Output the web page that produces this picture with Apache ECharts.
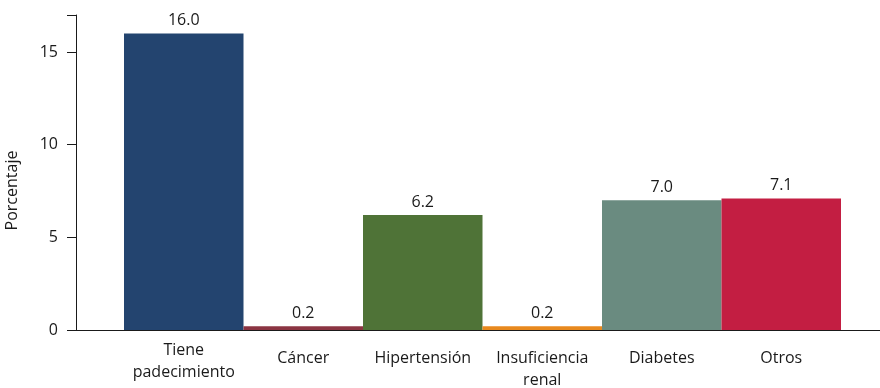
<!DOCTYPE html>
<html>
<head>
<meta charset="utf-8">
<script src="https://cdn.jsdelivr.net/npm/echarts@6/dist/echarts.min.js"></script>
<style>
  html, body { margin: 0; padding: 0; background: #fff; }
  #chart { width: 880px; height: 388px; }
</style>
</head>
<body>
<div id="chart"></div>
<script>
// Padecimientos: porcentaje de población
const categories = ['Tiene\npadecimiento', 'Cáncer', 'Hipertensión', 'Insuficiencia\nrenal', 'Diabetes', 'Otros'];
const values = [16.0, 0.2, 6.2, 0.2, 7.0, 7.1];
const barColors = ['#23446f', '#8b3442', '#4f7337', '#e8891e', '#6a8b80', '#c31e42'];
const yTicks = [0, 5, 10, 15];

const FONT = '"Open Sans", "Noto Sans", sans-serif';
const chart = echarts.init(document.getElementById('chart'));

const gridTop = 15, gridBottom = 58;

chart.setOption({
  animation: false,
  grid: [
    // frame grid: carries the visible axes
    { left: 76, right: 0, top: gridTop, bottom: gridBottom, containLabel: false, outerBoundsMode: 'none' },
    // bar grid: categories span a narrower band
    { left: 124, right: 39, top: gridTop, bottom: gridBottom, containLabel: false, outerBoundsMode: 'none' }
  ],
  xAxis: [
    {
      gridIndex: 0, type: 'value', min: 0, max: 1,
      axisLine: { show: true, onZero: false, lineStyle: { color: '#1a1a1a', width: 1 } },
      axisTick: { show: false }, axisLabel: { show: false }, splitLine: { show: false }
    },
    {
      gridIndex: 1, type: 'category',
      data: categories.map((c, i) => i === 0 ? { value: c, textStyle: { padding: [0, 0, 0, 0] } } : c),
      axisLine: { show: false }, axisTick: { show: false },
      axisLabel: {
        interval: 0, margin: 9, color: '#1a1a1a', fontFamily: FONT, fontSize: 16,
        lineHeight: 22, padding: [8, 0, 0, 0]
      }
    }
  ],
  yAxis: [
    {
      gridIndex: 0, type: 'value', min: 0, max: 17, interval: 5,
      name: 'Porcentaje', nameLocation: 'middle', nameGap: 56,
      nameTextStyle: { color: '#1a1a1a', fontFamily: FONT, fontSize: 16, padding: [0, 36, 0, 0] },
      axisLine: { show: true, lineStyle: { color: '#1a1a1a', width: 1 } },
      axisTick: { show: true, length: 9, lineStyle: { color: '#1a1a1a' } },
      axisLabel: {
        margin: 18, color: '#1a1a1a', fontFamily: FONT, fontSize: 16,
        formatter: v => yTicks.includes(v) ? String(v) : ''
      },
      splitLine: { show: false }
    },
    {
      gridIndex: 1, type: 'value', min: 0, max: 17, show: false
    }
  ],
  series: [{
    type: 'bar',
    xAxisIndex: 1, yAxisIndex: 1,
    barCategoryGap: 0,
    data: values.map((v, i) => ({ value: v, itemStyle: { color: barColors[i] } })),
    label: {
      show: true, position: 'top', distance: 5,
      color: '#1a1a1a', fontFamily: FONT, fontSize: 16,
      formatter: p => p.value.toFixed(1)
    }
  }]
});
</script>
</body>
</html>
